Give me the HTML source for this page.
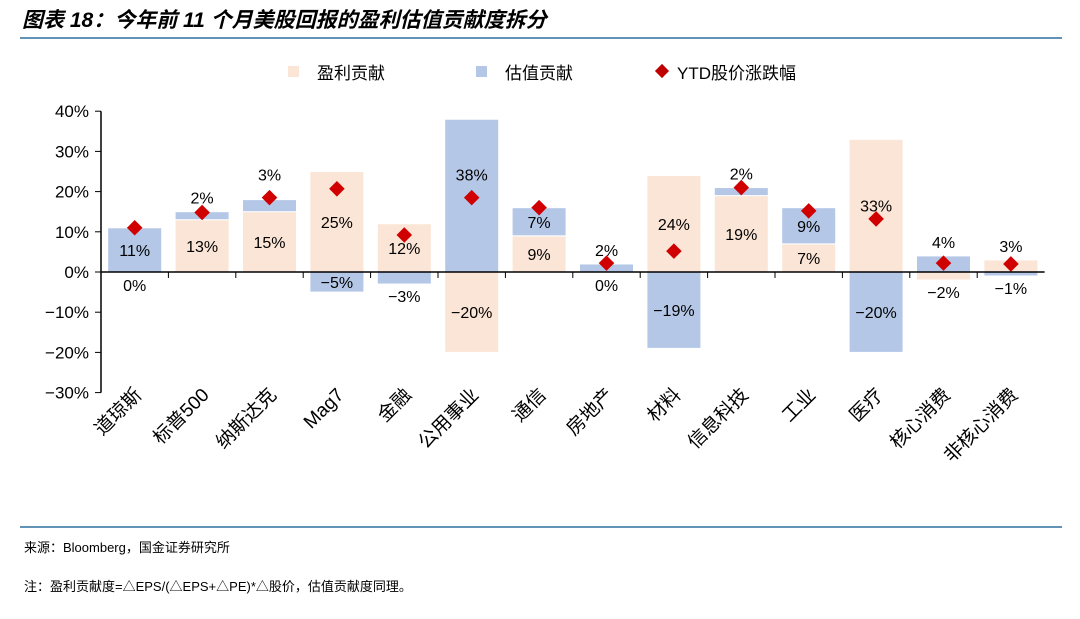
<!DOCTYPE html>
<html><head><meta charset="utf-8"><style>
body{margin:0;background:#fff;width:1080px;height:614px;overflow:hidden;font-family:"Liberation Sans","Noto Sans CJK SC",sans-serif}
svg text{font-family:"Liberation Sans","Noto Sans CJK SC",sans-serif}
</style></head><body>
<svg id="chart" width="1080" height="614">
<text x="22" y="27" font-size="21" font-weight="bold" font-style="italic" fill="#000">图表 18：今年前 11 个月美股回报的盈利估值贡献度拆分</text>
<line x1="20" y1="38" x2="1062" y2="38" stroke="#2e6e9e" stroke-width="1.5"/>
<g>
<rect x="288" y="66" width="11" height="11" fill="#fbe5d6"/>
<text x="317" y="79" font-size="17">盈利贡献</text>
<rect x="476" y="66" width="11" height="11" fill="#b4c7e7"/>
<text x="505" y="79" font-size="17">估值贡献</text>
<rect x="657" y="66" width="10" height="10" fill="#c00000" transform="rotate(45 662 71)"/>
<text x="677" y="79" font-size="17">YTD股价涨跌幅</text>
</g>
<g id="plot"></g>
<line x1="20" y1="527" x2="1062" y2="527" stroke="#2e6e9e" stroke-width="1.5"/>
<text x="24" y="552" font-size="13">来源：Bloomberg，国金证券研究所</text>
<text x="24" y="591" font-size="13">注：盈利贡献度=△EPS/(△EPS+△PE)*△股价，估值贡献度同理。</text>
</svg>
<script>
const categories=["道琼斯","标普500","纳斯达克","Mag7","金融","公用事业","通信","房地产","材料","信息科技","工业","医疗","核心消费","非核心消费"];
const earnings=[0,13,15,25,12,-20,9,0,24,19,7,33,-2,3];
const valuation=[11,2,3,-5,-3,38,7,2,-19,2,9,-20,4,-1];
const ytd=[11,14.8,18.5,20.7,9.2,18.5,16,2.2,5.2,21,15.2,13.2,2.2,2];
const yTicks=[40,30,20,10,0,-10,-20,-30];
const NS="http://www.w3.org/2000/svg";
const g=document.getElementById('plot');
const x0=101,cw=67.4,bw=54;
function y(v){return 272-v*4.02;}
function xc(i){return x0+cw*(i+0.5);}
function mk(t,a){const e=document.createElementNS(NS,t);for(const k in a)e.setAttribute(k,a[k]);g.appendChild(e);return e;}
function seg(i,a,b,fill,name){
  const e=mk('rect',{x:xc(i)-bw/2,y:Math.min(y(a),y(b)),width:bw,height:Math.abs(y(a)-y(b)),fill:fill,stroke:'#fff','stroke-width':1});
  
  
}
const labels=[];
function lab(i,v,yy,name){labels.push([i,v,yy,name]);}
yTicks.forEach(v=>{
  const l=mk('line',{x1:x0-6,x2:x0,y1:y(v),y2:y(v),stroke:'#000'});
  
  
  const t=mk('text',{x:x0-12,y:y(v)+6,'font-size':17,'text-anchor':'end'});
  t.textContent=(v<0?'−':'')+Math.abs(v)+'%';
  
  
});
categories.forEach((c,i)=>{
  const e=earnings[i],v=valuation[i];
  let pos=0,neg=0,ey=null,vy=null;
  if(e>0){seg(i,0,e,'#fbe5d6','bar-earnings');pos=e;ey=(y(0)+y(e))/2+6;}
  else if(e<0){seg(i,0,e,'#fbe5d6','bar-earnings');neg=e;ey=(y(0)+y(e))/2+6;}
  if(v>0){seg(i,pos,pos+v,'#b4c7e7','bar-valuation');vy=(y(pos)+y(pos+v))/2+6;if(v<5)vy=y(pos+v)-8;pos+=v;}
  else if(v<0){seg(i,neg,neg+v,'#b4c7e7','bar-valuation');vy=(y(neg)+y(neg+v))/2+6;if(v>-5)vy=y(neg+v)+18;neg+=v;}
  if(e===0)ey=y(0)+19;
  else if(Math.abs(e)<5)ey=e>0?y(e)-8:y(e)+18;
  const dy=y(ytd[i]);
  if(Math.abs(vy-6-dy)<12)vy=dy-17;
  lab(i,e,ey,'label-earnings');
  lab(i,v,vy,'label-valuation');
  const t=mk('text',{x:0,y:0,'font-size':19,'text-anchor':'end',transform:`translate(${xc(i)+8},${396}) rotate(-45)`});
  t.textContent=c;
  
  
  if(i>0){const l=mk('line',{x1:x0+cw*i,x2:x0+cw*i,y1:272,y2:278,stroke:'#000'});
  
  }
});
ytd.forEach((v,i)=>{
  const r=mk('rect',{x:xc(i)-5.5,y:y(v)-5.5,width:11,height:11,fill:'#d00000',transform:`rotate(45 ${xc(i)} ${y(v)})`});
  
  
});
labels.forEach(([i,v,yy,name])=>{
  const t=mk('text',{x:xc(i),y:yy,'font-size':16,'text-anchor':'middle',fill:'#000'});
  t.textContent=(v<0?'−':'')+Math.abs(v)+'%';
  
  
});
const ax=mk('line',{x1:x0,x2:x0+cw*14,y1:272,y2:272,stroke:'#000','stroke-width':1.5});


const ay=mk('line',{x1:x0,x2:x0,y1:y(40),y2:y(-30),stroke:'#000','stroke-width':1.5});


</script>
</body></html>
